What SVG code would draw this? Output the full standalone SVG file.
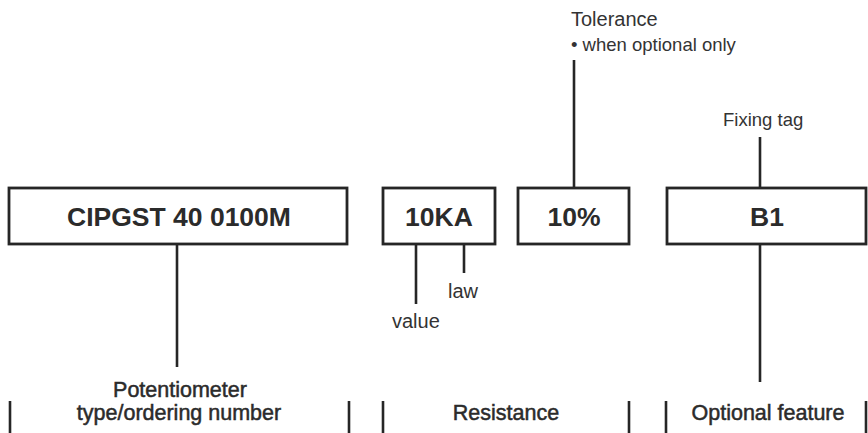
<svg xmlns="http://www.w3.org/2000/svg" width="868" height="433" viewBox="0 0 868 433">
<style>
.box{fill:#fff;stroke:#262626;stroke-width:2.8}
.ln{stroke:#262626;stroke-width:2.6;fill:none}
.code{font-family:"Liberation Sans",Arial,sans-serif;font-weight:bold;font-size:26.5px;fill:#2b2b2b;text-anchor:middle}
.lbl{font-family:"Liberation Sans",Arial,sans-serif;font-size:20px;fill:#333}
.cat{font-family:"Liberation Sans",Arial,sans-serif;font-size:21.5px;fill:#2b2b2b;stroke:#2b2b2b;stroke-width:0.5;text-anchor:middle}
</style>
<rect width="868" height="433" fill="#fff"/>
<g id="connectors">
<line class="ln" x1="177" y1="244" x2="177" y2="367"/>
<line class="ln" x1="416" y1="244" x2="416" y2="304"/>
<line class="ln" x1="464" y1="244" x2="464" y2="273"/>
<line class="ln" x1="574" y1="60" x2="574" y2="187"/>
<line class="ln" x1="760" y1="137" x2="760" y2="188"/>
<line class="ln" x1="760" y1="244" x2="760" y2="382"/>
<line class="ln" x1="10" y1="401" x2="10" y2="433"/>
<line class="ln" x1="349" y1="401" x2="349" y2="433"/>
<line class="ln" x1="383" y1="401" x2="383" y2="433"/>
<line class="ln" x1="629" y1="401" x2="629" y2="433"/>
<line class="ln" x1="666" y1="401" x2="666" y2="433"/>
<line class="ln" x1="866" y1="401" x2="866" y2="433"/>
</g>
<g id="node-type">
<rect class="box" x="9" y="188" width="338" height="56"/>
<text class="code" x="179" y="226">CIPGST 40 0100M</text>
</g>
<g id="node-resistance">
<rect class="box" x="383" y="188" width="112" height="56"/>
<text class="code" x="439" y="226">10KA</text>
</g>
<g id="node-tolerance">
<rect class="box" x="518" y="188" width="111" height="56"/>
<text class="code" x="574" y="226">10%</text>
</g>
<g id="node-feature">
<rect class="box" x="667" y="188" width="199" height="56"/>
<text class="code" x="767" y="226">B1</text>
</g>
<g id="labels">
<text class="lbl" x="571" y="26">Tolerance</text>
<text class="lbl" x="571" y="51" style="font-size:18.5px">• when optional only</text>
<text class="lbl" x="723" y="126" style="font-size:18.5px">Fixing tag</text>
<text class="lbl" x="448" y="298">law</text>
<text class="lbl" x="392" y="328">value</text>
<text class="cat" x="180" y="397">Potentiometer</text>
<text class="cat" x="179" y="420">type/ordering number</text>
<text class="cat" x="506" y="420">Resistance</text>
<text class="cat" x="768" y="420">Optional feature</text>
</g>
</svg>
